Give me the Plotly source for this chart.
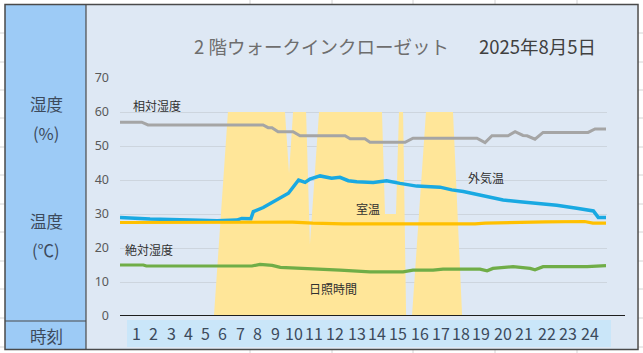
import plotly.graph_objects as go

W, H = 643, 353

# ---------------- data ----------------
# 日照時間 (sunshine, drawn as area; scaled to the humidity/temperature axis)
sun_t = [0, 4.63, 5.32, 8.13, 8.33, 8.53, 9.17, 9.36, 9.81, 12.91, 13.06, 13.60,
         13.75, 13.95, 14.10, 14.39, 15.08, 16.41, 16.86, 24]
sun_v = [0, 0, 60, 60, 42, 60, 60, 21, 60, 60, 30, 30, 60, 60, 0, 0, 60, 60, 0, 0]

# 相対湿度 (%)
rh_t = [0, 1.07, 1.38, 7.05, 7.30, 7.49, 7.79, 8.53, 8.87, 11.09, 11.34, 12.07,
        12.32, 14.05, 14.44, 17.59, 17.99, 18.33, 19.12, 19.47, 19.86, 20.06,
        20.45, 20.85, 23.07, 23.41, 23.95]
rh_v = [57.0, 57.0, 56.2, 56.2, 55.4, 55.4, 54.2, 54.2, 53.0, 53.0, 52.1, 52.1,
        51.1, 51.1, 52.3, 52.3, 51.0, 53.0, 53.0, 54.2, 53.1, 53.0,
        52.0, 54.0, 54.0, 55.0, 55.0]

# 外気温 (℃)
out_t = [0, 1.48, 3.45, 4.78, 5.75, 6.00, 6.45, 6.57, 7.06, 8.30, 8.80, 9.12,
         9.36, 9.86, 10.43, 10.84, 11.25, 11.67, 12.48, 13.14, 13.80, 14.62,
         15.77, 16.35, 16.92, 17.74, 18.88, 19.71, 20.70, 21.52, 22.51, 23.33,
         23.57, 23.95]
out_v = [29.0, 28.5, 28.2, 28.0, 28.2, 28.7, 28.6, 30.7, 31.9, 36.1, 40.0, 39.3,
         40.3, 41.2, 40.5, 40.8, 39.8, 39.5, 39.3, 39.8, 39.0, 38.2,
         37.9, 37.1, 36.6, 35.6, 34.1, 33.6, 33.1, 32.6, 31.7, 30.9,
         29.0, 29.0]

# 室温 (℃)
room_t = [0, 6.0, 8.5, 9.5, 11.0, 17.5, 18.0, 21.0, 22.9, 23.3, 23.95]
room_v = [27.5, 27.6, 27.6, 27.3, 27.1, 27.1, 27.3, 27.7, 27.8, 27.3, 27.3]

# 絶対湿度 (g/m3)
ah_t = [0, 1.15, 1.30, 6.50, 6.90, 7.50, 7.90, 8.40, 8.90, 10.35, 10.84, 12.32,
        13.95, 14.44, 15.43, 15.92, 17.74, 18.09, 18.38, 19.37, 20.21, 20.45,
        20.85, 23.02, 23.56, 23.95]
ah_v = [15.0, 15.0, 14.7, 14.7, 15.2, 14.9, 14.3, 14.2, 14.0, 13.8, 13.5, 13.0,
        13.0, 13.5, 13.5, 13.8, 13.8, 13.3, 14.0, 14.5, 14.0, 13.6,
        14.5, 14.5, 14.8, 14.8]

hour_labels = [str(h) for h in range(1, 25)]
y_ticks = [0, 10, 20, 30, 40, 50, 60, 70]

# ---------------- layout helpers ----------------
def px(x):
    return x / W

def py(y):
    return 1 - y / H

label_px = [136, 153.5, 171, 188.5, 205.5, 223, 240, 257, 275, 294, 314, 335,
            357, 377, 398, 420, 441, 461, 481, 503, 524, 547, 568, 590]

JP = "Noto Sans CJK JP"

fig = go.Figure()

fig.add_trace(go.Scatter(x=sun_t, y=sun_v, mode="lines", fill="tozeroy",
                         line=dict(width=0, color="#FFE699"), fillcolor="#FFE699",
                         hoverinfo="skip", showlegend=False))
fig.add_trace(go.Scatter(x=rh_t, y=rh_v, mode="lines",
                         line=dict(width=3, color="#A5A5A5"), showlegend=False))
fig.add_trace(go.Scatter(x=out_t, y=out_v, mode="lines",
                         line=dict(width=3.5, color="#19A9E2"), showlegend=False))
fig.add_trace(go.Scatter(x=room_t, y=room_v, mode="lines",
                         line=dict(width=3.2, color="#FFC000"), showlegend=False))
fig.add_trace(go.Scatter(x=ah_t, y=ah_v, mode="lines",
                         line=dict(width=3.2, color="#70AD47"), showlegend=False))

shapes = []
# chart background
shapes.append(dict(type="rect", xref="paper", yref="paper", layer="below",
                   x0=px(86), x1=px(637), y0=py(349), y1=py(5),
                   fillcolor="#DEE8F4", line=dict(width=0)))
# left header column
shapes.append(dict(type="rect", xref="paper", yref="paper", layer="below",
                   x0=px(5), x1=px(86), y0=py(349), y1=py(5),
                   fillcolor="#9DCBF6", line=dict(width=0)))
# tick label band
shapes.append(dict(type="rect", xref="paper", yref="paper", layer="below",
                   x0=px(127), x1=px(611), y0=py(347), y1=py(320),
                   fillcolor="#CAE6F9", line=dict(width=0)))
# spreadsheet cell grid lines outside the chart
for gx in [250, 332, 413, 495, 577]:
    for (a, b) in [(0, 4), (350, 353)]:
        shapes.append(dict(type="line", xref="paper", yref="paper", layer="below",
                           x0=px(gx), x1=px(gx), y0=py(a), y1=py(b),
                           line=dict(color="#D4D4D4", width=1)))
for gy in [33, 62, 90, 118, 147, 175, 204, 232, 261, 289, 318, 347]:
    for (a, b) in [(0, 4.5), (638, 643)]:
        shapes.append(dict(type="line", xref="paper", yref="paper", layer="below",
                           x0=px(a), x1=px(b), y0=py(gy), y1=py(gy),
                           line=dict(color="#D4D4D4", width=1)))
# borders
shapes.append(dict(type="rect", xref="paper", yref="paper", layer="above",
                   x0=px(5), x1=px(638), y0=py(349.5), y1=py(4.5),
                   line=dict(color="#4A4A4A", width=1.5)))
shapes.append(dict(type="line", xref="paper", yref="paper", layer="above",
                   x0=px(86), x1=px(86), y0=py(349.5), y1=py(4.5),
                   line=dict(color="#4A4A4A", width=1.2)))
shapes.append(dict(type="line", xref="paper", yref="paper", layer="above",
                   x0=px(5), x1=px(86), y0=py(321), y1=py(321),
                   line=dict(color="#4A4A4A", width=1.2)))
# horizontal axis line (extends past the plot area like the overlaid chart's axis)
shapes.append(dict(type="line", xref="paper", yref="y", layer="above",
                   x0=px(120), x1=px(625), y0=0, y1=0,
                   line=dict(color="#1E1E1E", width=2)))

ann = []
# title
ann.append(dict(text="2 階ウォークインクローゼット", x=px(192), y=py(45.5),
                xref="paper", yref="paper", xanchor="left", yanchor="middle",
                showarrow=False, font=dict(family=JP, size=18.5, color="#6E6E6E")))
ann.append(dict(text="2025年8月5日", x=px(477), y=py(45.5),
                xref="paper", yref="paper", xanchor="left", yanchor="middle",
                showarrow=False, font=dict(family=JP, size=18.5, color="#404040")))
# left header labels
for txt, yy in [("湿度", 104.5), ("(%)", 133.5), ("温度", 221), ("(℃)", 249.5), ("時刻", 335.5)]:
    ann.append(dict(text=txt, x=px(46), y=py(yy), xref="paper", yref="paper",
                    xanchor="center", yanchor="middle", showarrow=False,
                    font=dict(family=JP, size=16.5, color="#3C4A5C")))
# series labels
for txt, xx, yy in [("相対湿度", 156.5, 106), ("外気温", 486, 177), ("室温", 368, 208.5),
                    ("絶対湿度", 149, 249.5), ("日照時間", 333, 288.5)]:
    ann.append(dict(text=txt, x=px(xx), y=py(yy), xref="paper", yref="paper",
                    xanchor="center", yanchor="middle", showarrow=False,
                    font=dict(family=JP, size=12, color="#303030")))
# hour labels
for txt, xx in zip(hour_labels, label_px):
    ann.append(dict(text=txt, x=px(xx), y=py(333), xref="paper", yref="paper",
                    xanchor="center", yanchor="middle", showarrow=False,
                    font=dict(family=JP, size=16, color="#3C4A5C")))

fig.update_layout(
    width=W, height=H,
    autosize=False,
    margin=dict(l=0, r=0, t=0, b=0, pad=0, autoexpand=False),
    paper_bgcolor="white",
    plot_bgcolor="rgba(0,0,0,0)",
    showlegend=False,
    shapes=shapes,
    annotations=ann,
    xaxis=dict(domain=[px(120), px(607)], range=[0, 24], showgrid=False,
               showticklabels=False, zeroline=False, showline=False, ticks="",
               automargin=False),
    yaxis=dict(domain=[py(316), py(78)], range=[0, 70], tickvals=y_ticks,
               showgrid=True, gridcolor="#CDD5DE", gridwidth=1, zeroline=False,
               showline=False, ticks="", ticklabelstandoff=10, automargin=False,
               tickfont=dict(family="Noto Sans", size=12.5, color="#595959")),
)

fig.write_html(
    "out.html",
    config={"displayModeBar": False, "responsive": False},
    post_script="document.documentElement.style.margin='0';document.body.style.margin='0';"
                "document.body.style.overflow='hidden';",
)
